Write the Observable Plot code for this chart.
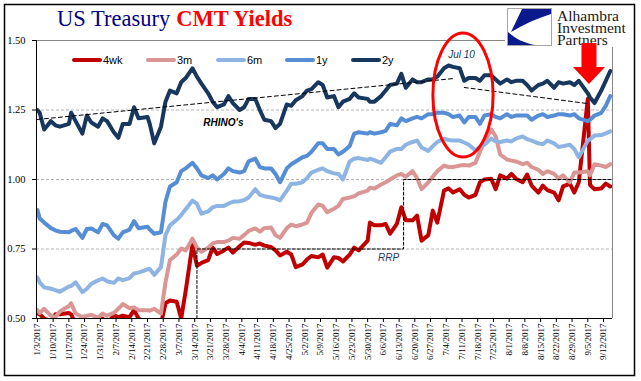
<!DOCTYPE html>
<html><head><meta charset="utf-8">
<script src="https://cdn.jsdelivr.net/npm/d3@7"></script>
<script src="https://cdn.jsdelivr.net/npm/@observablehq/plot@0.6"></script>
<style>
html,body{margin:0;padding:0;background:#fff;}
#chart{position:relative;width:641px;height:381px;overflow:hidden;}
</style></head><body><div id="chart"></div>
<script>
// ---- data (Mon/Wed/Fri sampling, holidays replaced by next day) ----
const dates = [
"01-03","01-04","01-06","01-09","01-11","01-13","01-17","01-18","01-20","01-23","01-25","01-27",
"01-30","02-01","02-03","02-06","02-08","02-10","02-13","02-15","02-17","02-21","02-22","02-24",
"02-27","03-01","03-03","03-06","03-08","03-10","03-13","03-15","03-17","03-20","03-22","03-24",
"03-27","03-29","03-31","04-03","04-05","04-07","04-10","04-12","04-14","04-17","04-19","04-21",
"04-24","04-26","04-28","05-01","05-03","05-05","05-08","05-10","05-12","05-15","05-17","05-19",
"05-22","05-24","05-26","05-30","05-31","06-02","06-05","06-07","06-09","06-12","06-14","06-16",
"06-19","06-21","06-23","06-26","06-28","06-30","07-03","07-05","07-07","07-10","07-12","07-14",
"07-17","07-19","07-21","07-24","07-26","07-28","07-31","08-02","08-04","08-07","08-09","08-11",
"08-14","08-16","08-18","08-21","08-23","08-25","08-28","08-30","09-01","09-05","09-06","09-08",
"09-11","09-13","09-15"];

const wk4 = [
0.518,0.515,0.50, 0.49,0.515,0.515, 0.52,0.515,0.48, 0.47,0.48,0.49,
0.502,0.50,0.48, 0.512,0.505,0.51, 0.505,0.53,0.50, 0.48,0.47,0.47,
0.48,0.555,0.565, 0.56,0.50,0.60, 0.765,0.69,0.70, 0.71,0.755,0.732,
0.745,0.755,0.737, 0.76,0.773,0.772, 0.765,0.77,0.762, 0.757,0.745,0.727,
0.74,0.73,0.685, 0.695,0.712,0.725, 0.72,0.73,0.683, 0.72,0.718,0.705,
0.73,0.755,0.745, 0.78,0.845,0.835, 0.835,0.84,0.805, 0.84,0.90,0.853,
0.853,0.87,0.78, 0.80,0.888,0.845, 0.96,0.968,0.953, 0.965,0.945,0.935,
0.945,0.99,1.00, 1.003,0.965,1.015, 1.003,1.02,1.003, 0.99,1.018,0.978,
0.953,0.978,0.962, 0.953,0.925,0.975, 0.985,0.953,0.99, 1.29,0.98,0.965,
0.968,0.985,0.975];

const m3 = [
0.53,0.52,0.535, 0.51,0.505,0.525, 0.545,0.555,0.518, 0.505,0.51,0.513,
0.503,0.518,0.51, 0.52,0.535,0.552, 0.537,0.54,0.53, 0.53,0.528,0.535,
0.518,0.63,0.71, 0.73,0.752,0.745, 0.787,0.755,0.74, 0.755,0.77,0.775,
0.775,0.78,0.79, 0.787,0.80,0.815, 0.824,0.812,0.825, 0.827,0.80,0.79,
0.825,0.838,0.832, 0.838,0.845,0.88, 0.91,0.905,0.882, 0.895,0.905,0.93,
0.935,0.94,0.95, 0.96,0.97,0.968, 0.982,0.99,1.00, 1.015,1.02,1.01,
1.03,1.005,0.965, 0.99,1.01,1.03, 1.05,1.045,1.045, 1.05,1.052,1.05,
1.06,1.10,1.135, 1.18,1.155,1.09, 1.072,1.068,1.065, 1.055,1.06,1.045,
1.035,1.02,1.03, 1.02,1.003,1.015, 0.99,1.025,1.025, 1.03,1.015,1.055,
1.05,1.045,1.055];

const m6 = [
0.647,0.63,0.612, 0.607,0.602,0.596, 0.615,0.617,0.63, 0.595,0.607,0.625,
0.637,0.644,0.634, 0.628,0.644,0.638, 0.645,0.662,0.665, 0.677,0.678,0.657,
0.685,0.80,0.835, 0.855,0.872,0.893, 0.924,0.912,0.877, 0.885,0.90,0.905,
0.905,0.913,0.92, 0.922,0.926,0.935, 0.965,0.945,0.94, 0.935,0.932,0.925,
0.96,0.985,0.985, 0.99,1.005,1.025, 1.035,1.04,1.03, 1.022,1.02,1.00,
1.065,1.075,1.077, 1.07,1.075,1.07, 1.06,1.08,1.10, 1.11,1.11,1.125,
1.135,1.14,1.115, 1.103,1.12,1.135, 1.147,1.142,1.14, 1.14,1.133,1.125,
1.105,1.118,1.125, 1.147,1.138,1.135, 1.14,1.137,1.147, 1.155,1.145,1.14,
1.13,1.127,1.14, 1.13,1.117,1.12, 1.125,1.11,1.08, 1.14,1.145,1.158,
1.16,1.166,1.173];

const y1 = [
0.89,0.86,0.845, 0.825,0.817,0.812, 0.81,0.815,0.822, 0.79,0.822,0.824,
0.81,0.84,0.835, 0.80,0.787,0.81, 0.82,0.85,0.825, 0.83,0.82,0.805,
0.81,0.92,0.975, 0.99,1.03,1.04, 1.06,1.04,1.015, 1.005,1.015,1.00,
1.02,1.04,1.03, 1.025,1.03,1.065, 1.075,1.045,1.04, 1.04,1.02,0.99,
1.04,1.055,1.065, 1.08,1.085,1.10, 1.13,1.13,1.11, 1.11,1.09,1.10,
1.12,1.165,1.17, 1.165,1.17,1.165, 1.17,1.175,1.20, 1.195,1.22,1.21,
1.22,1.225,1.22, 1.235,1.235,1.24, 1.24,1.235,1.225, 1.23,1.205,1.225,
1.225,1.20,1.23, 1.235,1.225,1.22, 1.235,1.225,1.23, 1.23,1.23,1.215,
1.23,1.235,1.225, 1.23,1.235,1.235, 1.23,1.235,1.22, 1.21,1.215,1.23,
1.24,1.265,1.30];

const y2 = [
1.25,1.24,1.18, 1.21,1.195,1.19, 1.20,1.24,1.21, 1.165,1.23,1.205,
1.19,1.22,1.21, 1.17,1.15,1.20, 1.20,1.26,1.22, 1.225,1.20,1.13,
1.19,1.28,1.32, 1.31,1.35,1.365, 1.40,1.37,1.345, 1.31,1.28,1.26,
1.27,1.30,1.275, 1.25,1.26,1.29, 1.29,1.25,1.215, 1.21,1.185,1.20,
1.27,1.265,1.285, 1.30,1.32,1.325, 1.35,1.34,1.295, 1.30,1.26,1.28,
1.29,1.31,1.295, 1.29,1.28,1.28, 1.30,1.32,1.34, 1.345,1.38,1.33,
1.36,1.35,1.35, 1.36,1.36,1.37, 1.40,1.41,1.405, 1.40,1.355,1.365,
1.365,1.355,1.375, 1.375,1.36,1.345, 1.36,1.35,1.355, 1.355,1.34,1.32,
1.34,1.345,1.355, 1.33,1.35,1.345, 1.35,1.34,1.355, 1.31,1.295,1.275,
1.32,1.355,1.39];

const seriesNames = ["4wk","3m","6m","1y","2y"];
const seriesColors = ["#C00000","#DA9694","#8DB4E2","#558ED5","#17375E"];

const tickLabels = ["1/3/2017","1/10/2017","1/17/2017","1/24/2017","1/31/2017","2/7/2017","2/14/2017",
"2/21/2017","2/28/2017","3/7/2017","3/14/2017","3/21/2017","3/28/2017","4/4/2017","4/11/2017","4/18/2017",
"4/25/2017","5/2/2017","5/9/2017","5/16/2017","5/23/2017","5/30/2017","6/6/2017","6/13/2017","6/20/2017",
"6/27/2017","7/4/2017","7/11/2017","7/18/2017","7/25/2017","8/1/2017","8/8/2017","8/15/2017","8/22/2017",
"8/29/2017","9/5/2017","9/12/2017"];
const yTicks = [0.50, 0.75, 1.00, 1.25, 1.50];
const gridValues = [0.75, 1.00, 1.25];

// annotations (data space)
const trend1Dates = ["2017-01-03", "2017-07-07"];
const trend1Values = [1.216, 1.363];
const trend2Dates = ["2017-07-12", "2017-09-05"];
const trend2Values = [1.331, 1.273];
const rrpDates = ["2017-03-15", "2017-03-15", "2017-06-15", "2017-06-15", "2017-09-15T23:00:00Z"];
const rrpValues = [0.50, 0.75, 0.75, 1.00, 1.00];
const noteTexts = ["RHINO's", "RRP", "Jul 10"];
const noteDates = ["2017-03-26T19:00:00Z", "2017-06-08T07:00:00Z", "2017-07-10T19:00:00Z"];
const noteValues = [1.205, 0.719, 1.45];
const ellipseCenter = {date: "2017-07-11T16:00:00Z", value: 1.302, halfDays: 13.4, halfValue: 0.223};
const arrowTip = {date: "2017-09-05T18:00:00Z", value: 1.342};

// ---- build ----
const toDate = s => new Date(s.length <= 10 ? s + "T00:00:00Z" : s);
const parseTick = s => { const [m, d, y] = s.split("/").map(Number); return new Date(Date.UTC(y, m - 1, d)); };
const fmtTick = d => `${d.getUTCMonth() + 1}/${d.getUTCDate()}/${d.getUTCFullYear()}`;
const tickDates = tickLabels.map(parseTick);
const dateObjs = dates.map(s => new Date("2017-" + s + "T00:00:00Z"));
const seriesValues = [wk4, m3, m6, y1, y2];

const xDomain = [new Date("2017-01-02T14:00:00Z"), new Date("2017-09-16T00:00:00Z")];

const lineMarks = seriesValues.map((vals, i) =>
  Plot.line(dateObjs.map((d, j) => ({date: d, value: vals[j]})), {
    x: "date", y: "value", stroke: seriesColors[i], strokeWidth: 4,
    strokeLinejoin: "round", strokeLinecap: "round", clip: true
  }));

const pairs = (ds, vs) => ds.map((d, i) => ({date: toDate(d), value: vs[i]}));
const notes = noteTexts.map((t, i) => ({text: t, date: toDate(noteDates[i]), value: noteValues[i]}));

const plot = Plot.plot({
  width: 641, height: 381,
  marginLeft: 36, marginRight: 29, marginTop: 40, marginBottom: 63,
  style: {background: "#fff", fontFamily: "'Liberation Serif', serif", color: "#000"},
  x: {type: "utc", domain: xDomain, label: null},
  y: {domain: [0.5, 1.5], label: null},
  marks: [
    Plot.ruleY(gridValues, {stroke: "#b4b4b4", strokeDasharray: "3,2", strokeWidth: 1}),
    Plot.ruleY([1.5], {stroke: "#868686", strokeWidth: 1}),
    Plot.ruleX([xDomain[1]], {stroke: "#868686", strokeWidth: 1}),
    ...lineMarks,
    Plot.line(pairs(trend1Dates, trend1Values), {x: "date", y: "value", stroke: "#000", strokeWidth: 1, strokeDasharray: "4,3"}),
    Plot.line(pairs(trend2Dates, trend2Values), {x: "date", y: "value", stroke: "#000", strokeWidth: 1, strokeDasharray: "4,3"}),
    Plot.line(pairs(rrpDates, rrpValues), {x: "date", y: "value", stroke: "#000", strokeWidth: 1, strokeDasharray: "3,2"}),
    Plot.axisY(yTicks, {label: null, tickFormat: d3.format(".2f"), tickSize: 4, tickPadding: 7, fontSize: 10.5, fontFamily: "'Liberation Serif', serif"}),
    Plot.axisX(tickDates, {label: null, tickFormat: fmtTick, tickRotate: -90, tickSize: 4, tickPadding: 1, fontSize: 9, fontFamily: "'Liberation Serif', serif"}),
    Plot.ruleX([xDomain[0]], {stroke: "#000", strokeWidth: 1}),
    Plot.ruleY([0.5], {stroke: "#000", strokeWidth: 1}),
    Plot.text(notes.filter(n => n.text === "RHINO's"), {x: "date", y: "value", text: "text", fontSize: 10, fontWeight: "bold", fontStyle: "italic", fontFamily: "'Liberation Sans', Arial, sans-serif", fill: "#000"}),
    Plot.text(notes.filter(n => n.text === "RRP"), {x: "date", y: "value", text: "text", fontSize: 10, fontStyle: "italic", fontFamily: "'Liberation Sans', Arial, sans-serif", fill: "#1F3864"}),
    Plot.text(notes.filter(n => n.text === "Jul 10"), {x: "date", y: "value", text: "text", fontSize: 10, fontStyle: "italic", fontFamily: "'Liberation Sans', Arial, sans-serif", fill: "#17375E"})
  ]
});

document.getElementById("chart").appendChild(plot);

const svg = d3.select(plot);
const xs = plot.scale("x"), ys = plot.scale("y");

// ellipse highlight
{
  const c = toDate(ellipseCenter.date);
  const cx = xs.apply(c), cy = ys.apply(ellipseCenter.value);
  const rx = xs.apply(new Date(+c + ellipseCenter.halfDays * 864e5)) - cx;
  const ry = cy - ys.apply(ellipseCenter.value + ellipseCenter.halfValue);
  svg.append("ellipse").attr("cx", cx).attr("cy", cy).attr("rx", rx).attr("ry", ry)
    .attr("fill", "none").attr("stroke", "#FF0000").attr("stroke-width", 3);
}

// logo
{
  const g = svg.append("g").attr("text-anchor", "start");
  g.append("rect").attr("x", 505).attr("y", 5).attr("width", 127).attr("height", 42).attr("fill", "#fff");
  g.append("rect").attr("x", 507.5).attr("y", 8.5).attr("width", 44).attr("height", 37)
    .attr("fill", "#fff").attr("stroke", "#a6a6a6").attr("stroke-width", 1);
  const lg = g.append("g").attr("transform", "translate(508,9)");
  lg.append("path").attr("d", "M14,0 L43,0 L43,5 C30,9 16,15 3,23 Z").attr("fill", "#0A1A8C");
  lg.append("path").attr("d", "M0,23 C8,30 16,34 27,36 L0,36 Z").attr("fill", "#0A1A8C");
  const t = g.append("text").attr("text-anchor", "start").attr("font-family", "'Liberation Serif', serif").attr("font-size", 15.5).attr("fill", "#1a1a1a");
  t.append("tspan").attr("x", 557).attr("y", 21).text("Alhambra");
  t.append("tspan").attr("x", 557).attr("y", 33).text("Investment");
  t.append("tspan").attr("x", 557).attr("y", 44.5).text("Partners");
}

// red arrow
{
  const tx = xs.apply(toDate(arrowTip.date)), ty = ys.apply(arrowTip.value);
  const d = `M${tx},${ty} L${tx-16},${ty-17} L${tx-7.5},${ty-17} L${tx-7.5},${ty-41} L${tx+7.5},${ty-41} L${tx+7.5},${ty-17} L${tx+16},${ty-17} Z`;
  svg.append("path").attr("d", d).attr("fill", "#FF0000");
}

// title
{
  const t = svg.append("text").attr("x", 57).attr("y", 26).attr("text-anchor", "start")
    .attr("font-family", "'Liberation Serif', 'Times New Roman', serif").attr("font-size", 22.5);
  t.append("tspan").attr("fill", "#000080").text("US Treasury");
  t.append("tspan").attr("dx", 6).attr("fill", "#FF0000").attr("font-weight", "bold").text("CMT Yields");
}

// legend
{
  const legendX = [74, 148, 218, 287, 353];
  seriesNames.forEach((name, i) => {
    const x0 = legendX[i];
    svg.append("line").attr("x1", x0).attr("x2", x0 + 26).attr("y1", 60).attr("y2", 60)
      .attr("stroke", seriesColors[i]).attr("stroke-width", 4).attr("stroke-linecap", "round");
    svg.append("text").attr("x", x0 + 29).attr("y", 64).attr("text-anchor", "start")
      .attr("font-family", "'Liberation Sans', Arial, sans-serif").attr("font-size", 11).attr("fill", "#000").text(name);
  });
}

// outer frame
svg.append("rect").attr("x", 4.5).attr("y", 4.5).attr("width", 630).attr("height", 371)
  .attr("fill", "none").attr("stroke", "#000").attr("stroke-width", 1.5);
</script>
</body></html>
